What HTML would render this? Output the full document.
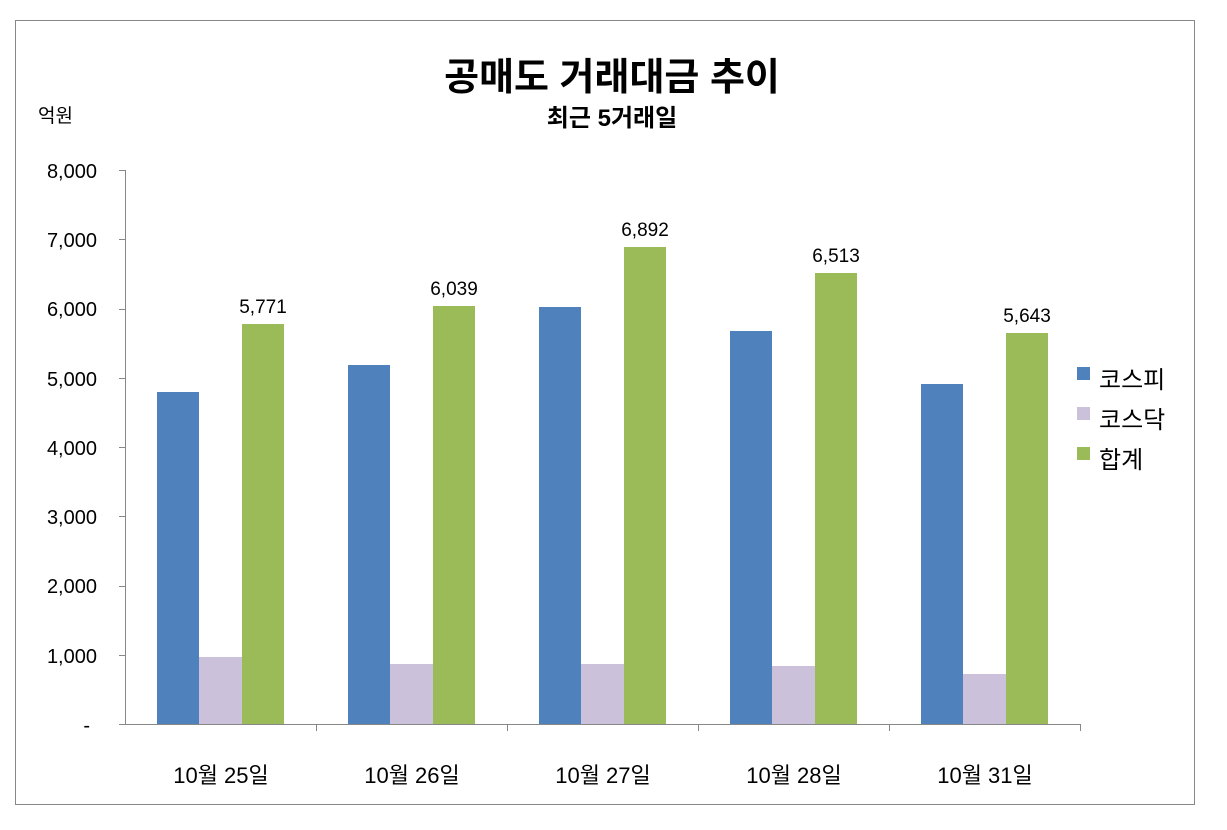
<!DOCTYPE html>
<html><head><meta charset="utf-8"><style>
body{margin:0;background:#fff;}
svg text{font-family:"Liberation Sans","Noto Sans CJK KR","NanumGothic",sans-serif;}
</style></head><body>
<svg width="1227" height="825" viewBox="0 0 1227 825" xmlns="http://www.w3.org/2000/svg">
<rect x="0" y="0" width="1227" height="825" fill="#fff"/>
<rect x="15.5" y="20.5" width="1179" height="784" fill="none" stroke="#888" stroke-width="1"/>
<text x="612" y="90" font-size="38" font-weight="bold" text-anchor="middle">공매도 거래대금 추이</text>
<text x="612" y="126" font-size="24" font-weight="bold" text-anchor="middle">최근 5거래일</text>
<text x="38" y="122" font-size="19">억원</text>
<g font-size="20" text-anchor="end">
<text x="97" y="178">8,000</text>
<text x="97" y="247">7,000</text>
<text x="97" y="316">6,000</text>
<text x="97" y="386">5,000</text>
<text x="97" y="455">4,000</text>
<text x="97" y="524">3,000</text>
<text x="97" y="593">2,000</text>
<text x="97" y="663">1,000</text>
<text x="90" y="732">-</text>
</g>
<g stroke="#888" stroke-width="1">
<line x1="125.5" y1="170" x2="125.5" y2="724"/>
<line x1="125" y1="724.5" x2="1080" y2="724.5"/>
<line x1="119" y1="170.5" x2="125" y2="170.5"/>
<line x1="119" y1="239.5" x2="125" y2="239.5"/>
<line x1="119" y1="309.5" x2="125" y2="309.5"/>
<line x1="119" y1="378.5" x2="125" y2="378.5"/>
<line x1="119" y1="447.5" x2="125" y2="447.5"/>
<line x1="119" y1="516.5" x2="125" y2="516.5"/>
<line x1="119" y1="586.5" x2="125" y2="586.5"/>
<line x1="119" y1="655.5" x2="125" y2="655.5"/>
<line x1="119" y1="724.5" x2="125" y2="724.5"/>
<line x1="316.5" y1="724" x2="316.5" y2="731"/>
<line x1="507.5" y1="724" x2="507.5" y2="731"/>
<line x1="698.5" y1="724" x2="698.5" y2="731"/>
<line x1="889.5" y1="724" x2="889.5" y2="731"/>
<line x1="1080.5" y1="724" x2="1080.5" y2="731"/>
</g>
<!-- bars: zero y=724, 0.06925 px/unit -->
<g>
<rect x="157" y="392" width="42" height="332" fill="#4f81bd"/>
<rect x="199" y="657" width="43" height="67" fill="#ccc1da"/>
<rect x="242" y="324" width="42" height="400" fill="#9bbb59"/>
<rect x="348" y="365" width="42" height="359" fill="#4f81bd"/>
<rect x="390" y="664" width="43" height="60" fill="#ccc1da"/>
<rect x="433" y="306" width="42" height="418" fill="#9bbb59"/>
<rect x="539" y="307" width="42" height="417" fill="#4f81bd"/>
<rect x="581" y="664" width="43" height="60" fill="#ccc1da"/>
<rect x="624" y="247" width="42" height="477" fill="#9bbb59"/>
<rect x="730" y="331" width="42" height="393" fill="#4f81bd"/>
<rect x="772" y="666" width="43" height="58" fill="#ccc1da"/>
<rect x="815" y="273" width="42" height="451" fill="#9bbb59"/>
<rect x="921" y="384" width="42" height="340" fill="#4f81bd"/>
<rect x="963" y="674" width="43" height="50" fill="#ccc1da"/>
<rect x="1006" y="333" width="42" height="391" fill="#9bbb59"/>
</g>
<g font-size="19" text-anchor="middle">
<text x="263" y="313">5,771</text>
<text x="454" y="295">6,039</text>
<text x="645" y="236">6,892</text>
<text x="836" y="262">6,513</text>
<text x="1027" y="322">5,643</text>
</g>
<g font-size="22" text-anchor="middle">
<text x="221" y="783">10월 25일</text>
<text x="412" y="783">10월 26일</text>
<text x="603" y="783">10월 27일</text>
<text x="794" y="783">10월 28일</text>
<text x="985" y="783">10월 31일</text>
</g>
<rect x="1077" y="367" width="13" height="13" fill="#4f81bd"/>
<rect x="1077" y="407" width="13" height="13" fill="#ccc1da"/>
<rect x="1077" y="447" width="13" height="13" fill="#9bbb59"/>
<g font-size="24">
<text x="1099" y="388">코스피</text>
<text x="1099" y="428">코스닥</text>
<text x="1099" y="468">합계</text>
</g>
</svg>
</body></html>
